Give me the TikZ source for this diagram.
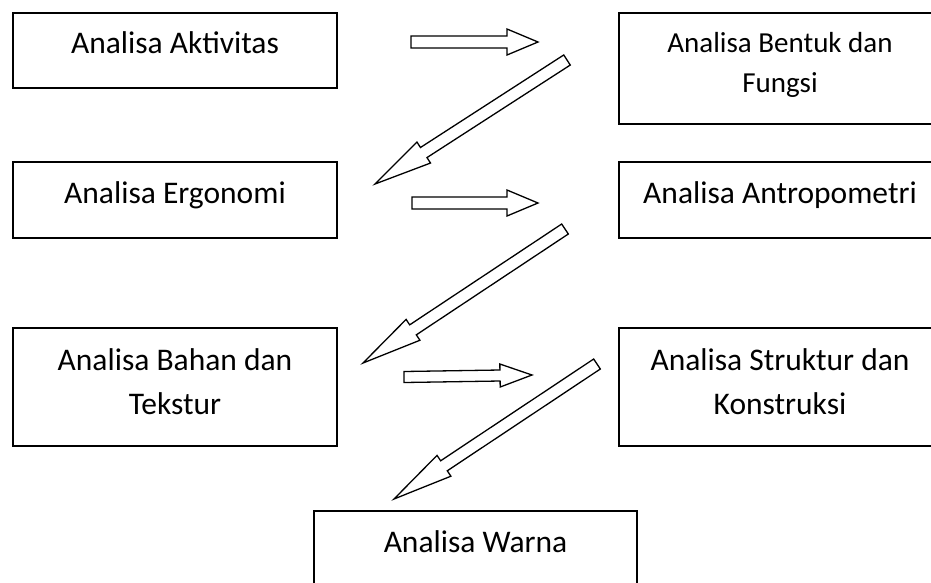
\documentclass[tikz,border=0pt]{standalone}
\usepackage{fontspec}
\setmainfont{Carlito}
\usetikzlibrary{calc}

\tikzset{
  kotak/.style={draw, line width=1.8pt, minimum width=324pt, inner sep=0pt},
  teks/.style={font=\fontsize{31.5}{44}\selectfont, align=center, inner sep=0pt,
    text height=20pt, text depth=0pt},
  panah/.style={draw, line width=1.3pt, fill=white, line join=miter},
}

% panah blok: ekor, ujung, setengah lebar batang, setengah lebar kepala, panjang kepala
\newcommand{\blockarrow}[5]{%
  \path ($(#2)!#5!(#1)$) coordinate (leher);
  \draw[panah] ($(#1)!#3!90:(#2)$) -- ($(leher)!#3!90:(#2)$) -- ($(leher)!#4!90:(#2)$)
    -- (#2) -- ($(leher)!#4!-90:(#2)$) -- ($(leher)!#3!-90:(#2)$)
    -- ($(#1)!#3!-90:(#2)$) -- cycle;
}

\begin{document}
\begin{tikzpicture}[x=1pt,y=-1pt]
  \useasboundingbox (0,0) rectangle (931,582);
  % kotak kiri
  \node[kotak, minimum height=75pt] (aktivitas) at (175,50.5) {};
  \node[kotak, minimum height=76pt] (ergonomi) at (175,200) {};
  \node[kotak, minimum height=118pt] (bahan) at (175,387) {};
  % kotak kanan (terpotong di tepi kanan)
  \node[kotak, minimum width=340pt, minimum height=111pt, anchor=west] (bentuk) at (618,68.5) {};
  \node[kotak, minimum width=340pt, minimum height=76pt, anchor=west] (antropometri) at (618,200) {};
  \node[kotak, minimum width=340pt, minimum height=118pt, anchor=west] (struktur) at (618,387) {};
  % kotak bawah (terpotong di tepi bawah)
  \node[kotak, minimum width=323pt, minimum height=90pt, anchor=north] (warna) at (475.5,510) {};

  % teks
  \node[teks] (t-aktivitas) at (175,43.3) {Analisa Aktivitas};
  \node[teks] (t-ergonomi) at (175,193) {Analisa Ergonomi};
  \node[teks, text height=64pt] (t-bahan) at (175,382) {Analisa Bahan dan\\Tekstur};
  \node[teks, font=\fontsize{29}{40.6}\selectfont, text height=59.3pt] (t-bentuk)
    at (780,63) {Analisa Bentuk dan\\Fungsi};
  \node[teks] (t-antropometri) at (780,193) {Analisa Antropometri};
  \node[teks, text height=64pt] (t-struktur) at (780,382) {Analisa Struktur dan\\Konstruksi};
  \node[teks] (t-warna) at (475.5,542) {Analisa Warna};

  % panah mendatar
  \coordinate (a1) at (411,42);  \coordinate (b1) at (538,42);
  \coordinate (a2) at (412,203); \coordinate (b2) at (538,203);
  \coordinate (a3) at (404,377); \coordinate (b3) at (532,375);
  \blockarrow{a1}{b1}{6pt}{13pt}{31pt}
  \blockarrow{a2}{b2}{6pt}{13pt}{31pt}
  \blockarrow{a3}{b3}{5.5pt}{11.5pt}{32pt}

  % panah miring
  \coordinate (c1) at (567,60);  \coordinate (d1) at (375,184);
  \coordinate (c2) at (565,229); \coordinate (d2) at (363,363);
  \coordinate (c3) at (597,364); \coordinate (d3) at (394,499);
  \blockarrow{c1}{d1}{6pt}{12.5pt}{58pt}
  \blockarrow{c2}{d2}{6pt}{12.5pt}{60pt}
  \blockarrow{c3}{d3}{6pt}{12.5pt}{60pt}
\end{tikzpicture}
\end{document}
